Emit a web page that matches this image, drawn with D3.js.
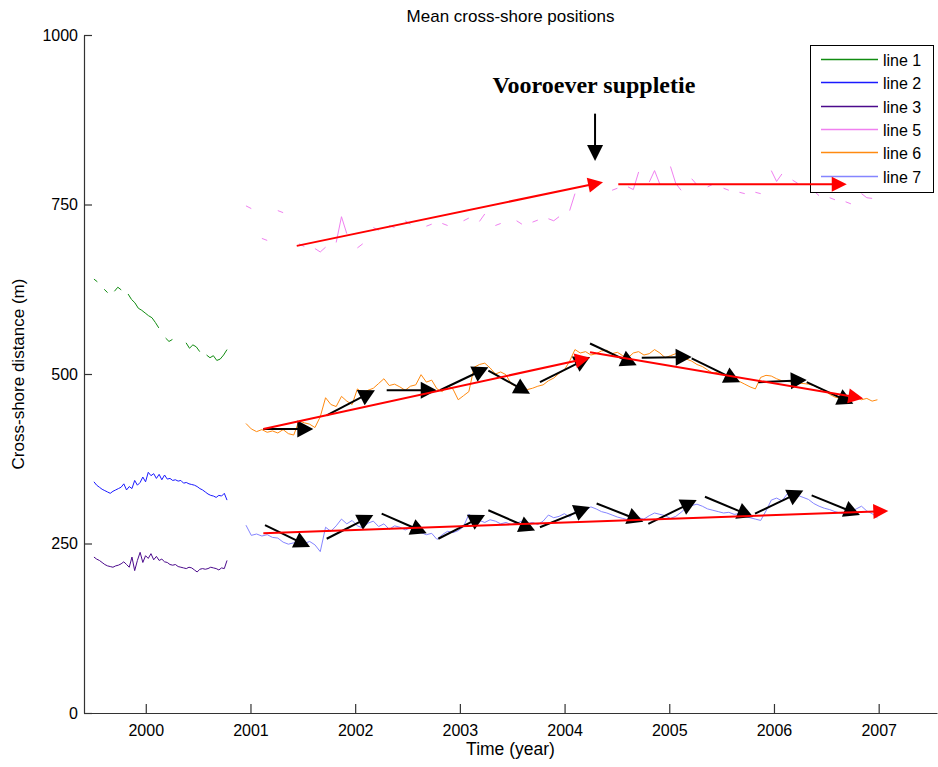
<!DOCTYPE html>
<html>
<head>
    <meta charset="UTF-8">
    <title>Mean cross-shore positions</title>
    <script src="https://d3js.org/d3.v7.min.js"></script>
    <style>
        body { margin: 0; background: #fff; }
        text { font-family: "Liberation Sans", Arial, sans-serif; fill: #000; }
    </style>
</head>
<body>
    <div id="chart"></div>
    <script>
        // ---- data ----
        var yTicks = [0, 250, 500, 750, 1000];
        var xTicks = [2000, 2001, 2002, 2003, 2004, 2005, 2006, 2007];

        // first survey period (1999.5 - 2000.8)
        var early1 = {t0: 1999.505, t1: 2000.776};
        var line1 = [640, 636, null, 625, 620, null, 622, 628, 624, null, 618, 610, 605, 597, 594, 590, 586, 583, 576, 568,
                     null, 553, 548, 551, null, 549, null, 546, 538, 543, 540, 533, null, 528, 524, 527, 520, 522, 528, 536];
        var line2 = [341, 336, 333, 330, 328, 326, 324, 327, 329, 331, 333, 338, 329, 334, 331, 343, 336, 340, 348, 341,
                     355, 350, 353, 346, 352, 344, 351, 345, 346, 343, 344, 342, 343, 339, 340, 338, 337, 336, 334, 331,
                     329, 326, 323, 321, 320, 318, 321, 320, 324, 314];
        var line3 = [230, 227, 225, 222, 219, 217, 216, 215, 217, 218, 220, 223, 219, 215, 230, 210, 225, 237, 222, 232,
                     228, 235, 226, 231, 225, 227, 223, 222, 219, 218, 219, 216, 215, 214, 213, 215, 214, 211, 208, 212,
                     213, 212, 213, 215, 214, 213, 211, 214, 213, 225];

        // second survey period (2001 - 2007)
        var late = {t0: 2000.957, t1: 2006.988};
        var line5 = [748, 744, null, 700, 697, null, 741, 738, null, null, 692, 688, null, 685, 680, 687, null, 694, 732, 707,
                     null, 686, 692, null, 716, 712, null, 719, 716, null, 726, 721, null, null, 718, 721, null, 722, 719, null,
                     null, 726, 730, null, 725, 736, null, 719, 722, null, null, 726, 721, null, 724, 727, null, 729, 726, 732,
                     null, 741, 766, null, null, null, null, null, null, 771, 774, null, 776, 772, 798, null, 783, 800, 780, null,
                     806, 781, 771, null, 788, 779, null, 776, 780, null, 774, 771, null, 768, 766, null, 768, 766, null, 800,
                     784, 795, null, 786, 781, null, null, 770, 763, null, 760, 757, null, 754, 751, null, 766, 760, 759, null];
        var line6 = [427, 419, 415, 418, 414, 416, 413, 418, 412, 410, 431, 428, 426, 421, 437, 465, 455, 452, 467, 460,
                     455, 478, 472, 476, 479, 486, 493, 483, 485, 481, 476, 482, 484, 499, 488, 491, 478, 474, 482, 478,
                     462, 468, 474, 510, 514, 516, 509, 500, 503, 499, 485, 482, 480, 477, 479, 482, 484, 490, 494, 501,
                     506, 519, 536, 531, 533, 528, 530, 534, 535, 530, 532, 527, 524, 531, 533, 528, 530, 536, 531, 524,
                     527, 530, 526, 522, 519, 514, 511, 506, 501, 503, 500, 496, 492, 489, 485, 481, 478, 495, 498, 497,
                     493, 490, 489, 488, 487, 486, 485, 483, 479, 476, 470, 466, 464, 463, 465, 466, 462, 464, 460, 462];
        var line7 = [277, 262, 264, 261, 263, 259, 258, 252, 249, 251, 256, 250, 253, 248, 238, 274, 268, 276, 286, 279,
                     284, 276, 273, 280, 283, 275, 279, 271, 276, 274, 270, 273, 268, 266, 263, 265, 256, 263, 268, 266,
                     269, 275, 293, 288, 284, 281, 285, 283, 279, 281, 278, 280, 283, 279, 281, 278, 283, 292, 288, 290,
                     294, 289, 297, 302, 299, 304, 301, 297, 295, 292, 289, 287, 285, 283, 288, 286, 291, 295, 293, 291,
                     287, 290, 296, 303, 306, 308, 305, 301, 299, 297, 295, 296, 293, 294, 290, 288, 286, 284, 298, 314,
                     317, 313, 323, 319, 321, 318, 315, 309, 305, 302, 300, 297, 295, 293, 297, 301, 305, 298, 294, 288];

        // annotation arrows: [t start, value start, t end, value end]
        var redArrows = [
            [2001.442, 689, 2004.367, 783],
            [2004.513, 780, 2006.695, 780],
            [2001.123, 419, 2004.243, 524],
            [2004.243, 532, 2006.853, 464],
            [2001.123, 265, 2007.092, 298]
        ];
        var blackArrows = [
            // line 6
            [2001.123, 419, 2001.600, 419],
            [2001.728, 439, 2002.189, 476],
            [2002.301, 476, 2002.779, 476],
            [2002.810, 476, 2003.272, 510],
            [2003.272, 505, 2003.670, 471],
            [2003.765, 488, 2004.243, 525],
            [2004.243, 545, 2004.689, 513],
            [2004.737, 524, 2005.214, 525],
            [2005.214, 523, 2005.676, 488],
            [2005.850, 488, 2006.313, 491],
            [2006.313, 488, 2006.758, 456],
            // line 7
            [2001.139, 277, 2001.569, 245],
            [2001.728, 257, 2002.173, 292],
            [2002.253, 294, 2002.683, 265],
            [2002.794, 257, 2003.240, 292],
            [2003.272, 299, 2003.718, 269],
            [2003.765, 274, 2004.243, 304],
            [2004.306, 309, 2004.752, 282],
            [2004.800, 279, 2005.262, 314],
            [2005.341, 319, 2005.803, 289],
            [2005.819, 294, 2006.280, 328],
            [2006.360, 321, 2006.821, 292]
        ];
        var noteArrow = [2004.291, 884, 2004.291, 814];
        var noteText = {t: 2004.28, v: 914, label: "Vooroever suppletie"};

        var series = [
            {name: "line 1", color: "#118c11", period: early1, values: line1},
            {name: "line 2", color: "#1a1aff", period: early1, values: line2},
            {name: "line 3", color: "#4b0a8c", period: early1, values: line3},
            {name: "line 5", color: "#f080f0", period: late, values: line5},
            {name: "line 6", color: "#ff8a10", period: late, values: line6},
            {name: "line 7", color: "#8585ff", period: late, values: line7}
        ];

        // ---- layout ----
        var W = 938, H = 767;
        var margin = {top: 35, right: 1, bottom: 54, left: 84},
            width = W - margin.left - margin.right,
            height = H - margin.top - margin.bottom;

        var x = d3.scaleLinear()
            .domain([1999.41, 1999.41 + width / 104.7])
            .range([0, width]);

        var y = d3.scaleLinear()
            .domain([0, 1000])
            .range([height, 0]);

        var svg = d3.select("#chart")
            .append("svg")
            .attr("width", W)
            .attr("height", H);

        var g = svg.append("g")
            .attr("transform", "translate(" + margin.left + "," + margin.top + ")");

        // axes, ticks pointing inward like matlab
        var xAxis = d3.axisBottom(x).tickValues(xTicks).tickFormat(d3.format("d")).tickSizeInner(-9).tickSizeOuter(0).tickPadding(12);
        var yAxis = d3.axisLeft(y).tickValues(yTicks).tickFormat(d3.format("d")).tickSizeInner(-8).tickSizeOuter(0).tickPadding(6);

        var gx = g.append("g")
            .attr("transform", "translate(0," + height + ")")
            .call(xAxis);
        var gy = g.append("g").call(yAxis);

        [gx, gy].forEach(function(a) {
            a.selectAll("path, line").attr("stroke", "#333").attr("stroke-width", 1.2);
            a.selectAll("text").style("font-size", "16px").attr("fill", "#000");
        });

        // series lines
        var line = d3.line()
            .defined(function(d) { return d.v !== null; })
            .x(function(d) { return x(d.t); })
            .y(function(d) { return y(d.v); });

        series.forEach(function(s) {
            var n = s.values.length;
            var pts = s.values.map(function(v, i) {
                return {t: s.period.t0 + (s.period.t1 - s.period.t0) * i / (n - 1), v: v};
            });
            g.append("path")
                .datum(pts)
                .attr("fill", "none")
                .attr("stroke", s.color)
                .attr("stroke-width", 1)
                .attr("d", line);
        });

        // legend
        var leg = svg.append("g").attr("transform", "translate(810,45)");
        leg.append("rect")
            .attr("x", 0.5).attr("y", 0.5)
            .attr("width", 123).attr("height", 147)
            .attr("fill", "#fff").attr("stroke", "#000").attr("stroke-width", 1);
        series.forEach(function(s, i) {
            var ly = Math.round(14 + i * 23.3) + 0.5;
            leg.append("line")
                .attr("x1", 11).attr("x2", 68).attr("y1", ly).attr("y2", ly)
                .attr("stroke", s.color).attr("stroke-width", 1.5);
            leg.append("text")
                .attr("x", 73).attr("y", ly + 6)
                .style("font-size", "16px")
                .text(s.name);
        });

        // arrows go on top of the legend
        var ga = svg.append("g")
            .attr("transform", "translate(" + margin.left + "," + margin.top + ")");

        function arrow(a, color, headLen, headHalf) {
            var x0 = x(a[0]), y0 = y(a[1]), x1 = x(a[2]), y1 = y(a[3]);
            var dx = x1 - x0, dy = y1 - y0, len = Math.sqrt(dx * dx + dy * dy);
            var ux = dx / len, uy = dy / len;
            var bx = x1 - ux * headLen, by = y1 - uy * headLen;
            ga.append("line")
                .attr("x1", x0).attr("y1", y0)
                .attr("x2", bx + ux * 2).attr("y2", by + uy * 2)
                .attr("stroke", color).attr("stroke-width", 2);
            ga.append("path")
                .attr("d", "M" + x1 + "," + y1 +
                    "L" + (bx - uy * headHalf) + "," + (by + ux * headHalf) +
                    "L" + (bx + uy * headHalf) + "," + (by - ux * headHalf) + "Z")
                .attr("fill", color);
        }

        blackArrows.forEach(function(a) { arrow(a, "#000", 16, 8.5); });
        redArrows.forEach(function(a) { arrow(a, "#ff0000", 15, 7.5); });
        arrow(noteArrow, "#000", 16, 8);

        ga.append("text")
            .attr("x", x(noteText.t)).attr("y", y(noteText.v))
            .attr("text-anchor", "middle")
            .style("font-family", "'Liberation Serif', 'Times New Roman', serif")
            .style("font-weight", "bold")
            .style("font-size", "24px")
            .text(noteText.label);

        // titles
        svg.append("text")
            .attr("x", margin.left + width / 2).attr("y", 22)
            .attr("text-anchor", "middle")
            .style("font-size", "17px")
            .text("Mean cross-shore positions");

        svg.append("text")
            .attr("x", margin.left + width / 2).attr("y", 755)
            .attr("text-anchor", "middle")
            .style("font-size", "17.5px")
            .text("Time (year)");

        svg.append("text")
            .attr("transform", "translate(24," + (margin.top + height / 2) + ") rotate(-90)")
            .attr("text-anchor", "middle")
            .style("font-size", "17px")
            .text("Cross-shore distance (m)");
    </script>
</body>
</html>
